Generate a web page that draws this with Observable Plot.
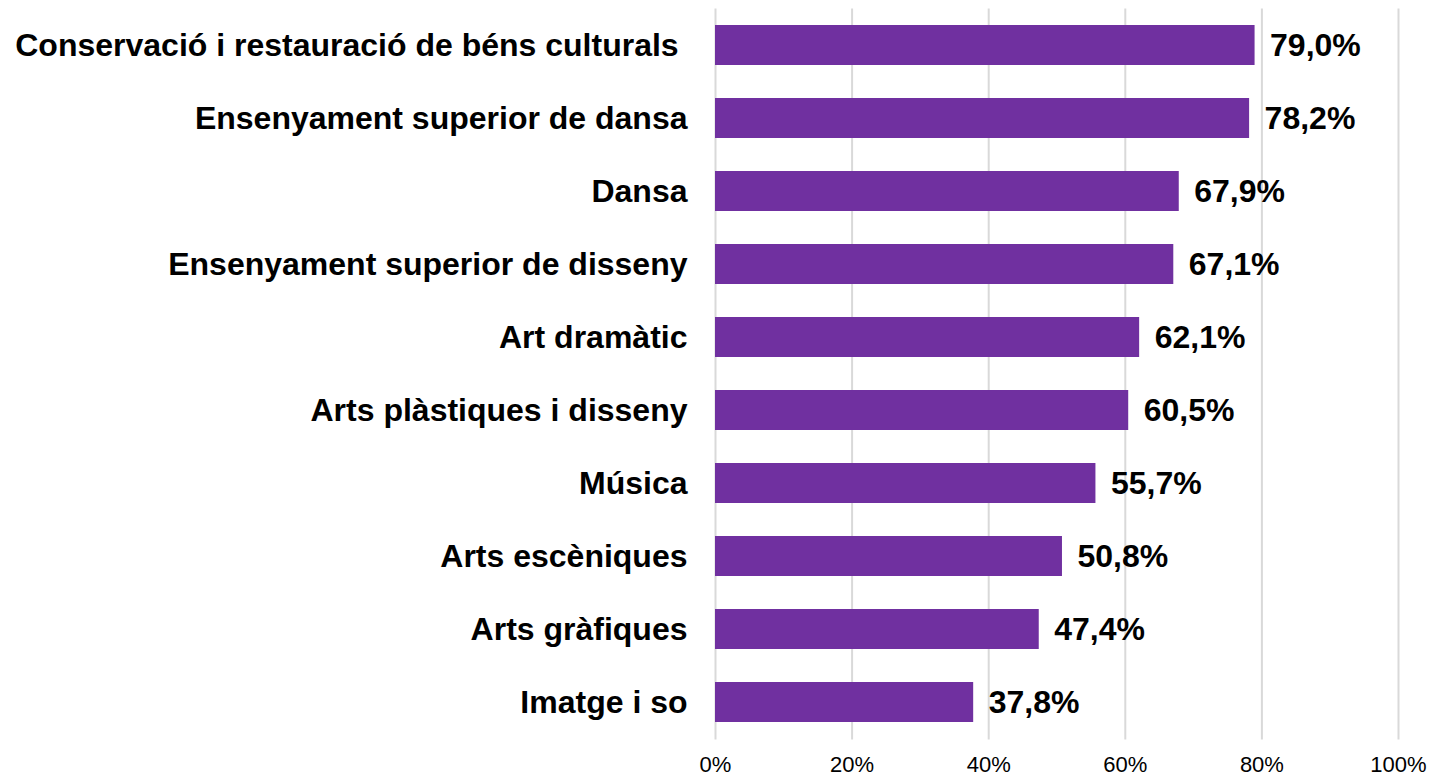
<!DOCTYPE html>
<html>
<head>
<meta charset="utf-8">
<script src="https://cdn.jsdelivr.net/npm/d3@7"></script>
<script src="https://cdn.jsdelivr.net/npm/@observablehq/plot@0.6"></script>
<style>
  html, body { margin: 0; padding: 0; background: #ffffff; }
  #chart { width: 1432px; height: 778px; }
  svg { font-family: "Liberation Sans", Arial, sans-serif; }
</style>
</head>
<body>
<div id="chart"></div>
<script>
const categories = [
  "Conservació i restauració de béns culturals\u00a0",
  "Ensenyament superior de dansa",
  "Dansa",
  "Ensenyament superior de disseny",
  "Art dramàtic",
  "Arts plàstiques i disseny",
  "Música",
  "Arts escèniques",
  "Arts gràfiques",
  "Imatge i so"
];
const values = [79.0, 78.2, 67.9, 67.1, 62.1, 60.5, 55.7, 50.8, 47.4, 37.8];
const tickValues = [0, 20, 40, 60, 80, 100];

const data = categories.map((c, i) => ({category: c, value: values[i]}));
const fmt = v => v.toFixed(1).replace(".", ",") + "%";

const chart = Plot.plot({
  width: 1432,
  height: 778,
  marginLeft: 715,
  marginRight: 34,
  marginTop: 8.5,
  marginBottom: 38.5,
  style: {fontFamily: '"Liberation Sans", Arial, sans-serif', background: "#ffffff", color: "#000000"},
  x: {domain: [0, 100]},
  y: {domain: categories, paddingInner: 0.45, paddingOuter: 0.225},
  marks: [
    Plot.gridX(tickValues, {stroke: "#d9d9d9", strokeOpacity: 1, strokeWidth: 2}),
    Plot.barX(data, {x: "value", y: "category", fill: "#7030a0"}),
    Plot.text(data, {x: "value", y: "category", text: d => fmt(d.value), dx: 15, textAnchor: "start", fontSize: 32, fontWeight: "bold", fill: "#000000"}),
    Plot.axisX({ticks: tickValues, tickFormat: d => d + "%", tickSize: 0, tickPadding: 16, fontSize: 22, label: null}),
    Plot.axisY({tickSize: 0, tickPadding: 28, fontSize: 32, fontWeight: "bold", label: null})
  ]
});
document.getElementById("chart").appendChild(chart);
</script>
</body>
</html>
